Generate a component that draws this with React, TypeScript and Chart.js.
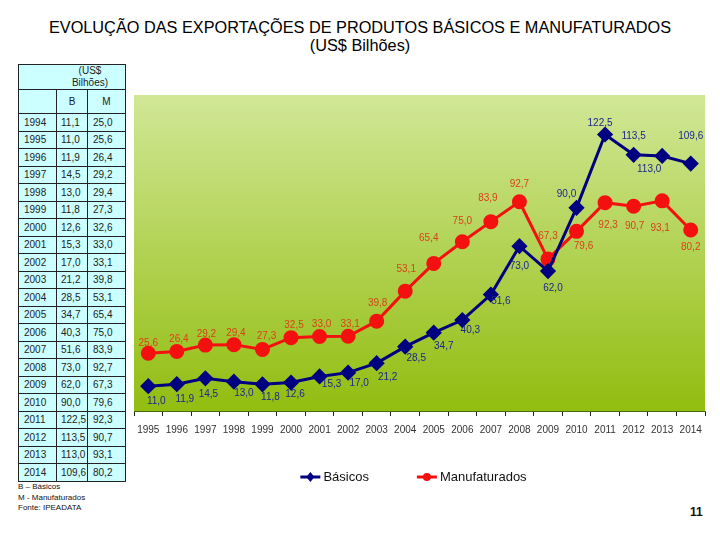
import React, { useEffect, useRef } from "react";
import { Chart, registerables } from "chart.js";
Chart.register(...registerables);

const years = ["1995","1996","1997","1998","1999","2000","2001","2002","2003","2004","2005","2006","2007","2008","2009","2010","2011","2012","2013","2014"];
const basicos = [11.0, 11.9, 14.5, 13.0, 11.8, 12.6, 15.3, 17.0, 21.2, 28.5, 34.7, 40.3, 51.6, 73.0, 62.0, 90.0, 122.5, 113.5, 113.0, 109.6];
const manufaturados = [25.6, 26.4, 29.2, 29.4, 27.3, 32.5, 33.0, 33.1, 39.8, 53.1, 65.4, 75.0, 83.9, 92.7, 67.3, 79.6, 92.3, 90.7, 93.1, 80.2];

const tableYears = ["1994","1995","1996","1997","1998","1999","2000","2001","2002","2003","2004","2005","2006","2007","2008","2009","2010","2011","2012","2013","2014"];
const tableB = [11.1, 11.0, 11.9, 14.5, 13.0, 11.8, 12.6, 15.3, 17.0, 21.2, 28.5, 34.7, 40.3, 51.6, 73.0, 62.0, 90.0, 122.5, 113.5, 113.0, 109.6];
const tableM = [25.0, 25.6, 26.4, 29.2, 29.4, 27.3, 32.6, 33.0, 33.1, 39.8, 53.1, 65.4, 75.0, 83.9, 92.7, 67.3, 79.6, 92.3, 90.7, 93.1, 80.2];

// label placement offsets (px) relative to each point
const basicosLabelDx = [8, 8, 3, 10, 8, 4, 12, 11, 11, 11, 10, 8, 10, 0, 5, -10, -5, 0, -13, 0];
const basicosLabelDy = [15, 15, 16, 12, 13, 12, 8, 11, 14, 12, 14, 10, 7, 20, 17, -14, -11, -19, 13, -27];
const manufLabelDx = [0, 2, 1, 2, 4, 3, 2, 2, 1, 1, -5, 0, -3, 0, 0, 7, 3, 1, -2, 0];
const manufLabelDy = [-10, -12, -11, -11, -13, -12, -12, -12, -18, -22, -25, -20, -23, -18, -23, 15, 23, 20, 27, 17];

const NARROW = '"Liberation Sans Narrow", "Liberation Sans", Arial, sans-serif';
const SANS = '"Liberation Sans", Arial, sans-serif';

const BLUE = "#000080";
const RED = "#f51010";
const BLUE_LABEL = "#1c2790";
const RED_LABEL = "#d8421a";

const fmt = (v: number) => v.toFixed(1).replace(".", ",");

const bgPlugin = {
  id: "bgGradient",
  beforeDraw(chart: any) {
    const { ctx, chartArea: a } = chart;
    if (!a) return;
    const g = ctx.createLinearGradient(0, a.top, 0, a.bottom);
    g.addColorStop(0, "#d1e796");
    g.addColorStop(1, "#92bd10");
    ctx.save();
    ctx.fillStyle = g;
    ctx.fillRect(a.left, a.top, a.right - a.left, a.bottom - a.top);
    ctx.restore();
  },
};

const labelPlugin = {
  id: "pointLabels",
  afterDatasetsDraw(chart: any) {
    const ctx = chart.ctx;
    const offsets = [
      { dx: basicosLabelDx, dy: basicosLabelDy, color: BLUE_LABEL },
      { dx: manufLabelDx, dy: manufLabelDy, color: RED_LABEL },
    ];
    ctx.save();
    ctx.font = `10px ${NARROW}`;
    ctx.textAlign = "center";
    ctx.textBaseline = "middle";
    chart.data.datasets.forEach((ds: any, i: number) => {
      const meta = chart.getDatasetMeta(i);
      const o = offsets[i];
      ctx.fillStyle = o.color;
      meta.data.forEach((el: any, j: number) => {
        ctx.fillText(fmt(ds.data[j]), el.x + o.dx[j], el.y + o.dy[j]);
      });
    });
    ctx.restore();
  },
};

const legendPlugin = {
  id: "customLegend",
  afterDraw(chart: any) {
    const { ctx, chartArea: a } = chart;
    ctx.save();
    ctx.font = `13px ${NARROW}`;
    ctx.textBaseline = "middle";
    const lineW = 20;
    const gap = 48;
    const items = chart.data.datasets.map((ds: any) => ({
      ds,
      w: lineW + 3 + ctx.measureText(ds.label).width,
    }));
    const total = items.reduce((s: number, it: any) => s + it.w, 0) + gap * (items.length - 1);
    let x = (a.left + a.right) / 2 - 6 - total / 2;
    const y = a.bottom + 66;
    items.forEach((it: any) => {
      const ds = it.ds;
      ctx.strokeStyle = ds.borderColor;
      ctx.lineWidth = 3;
      ctx.beginPath();
      ctx.moveTo(x, y);
      ctx.lineTo(x + lineW, y);
      ctx.stroke();
      ctx.fillStyle = ds.borderColor;
      const cx = x + lineW / 2;
      ctx.beginPath();
      if (ds.pointStyle === "rectRot") {
        ctx.moveTo(cx, y - 5);
        ctx.lineTo(cx + 4, y);
        ctx.lineTo(cx, y + 5);
        ctx.lineTo(cx - 4, y);
        ctx.closePath();
      } else {
        ctx.arc(cx, y, 4, 0, Math.PI * 2);
      }
      ctx.fill();
      ctx.fillStyle = "#111";
      ctx.textAlign = "left";
      ctx.fillText(ds.label, x + lineW + 3, y);
      x += it.w + gap;
    });
    ctx.restore();
  },
};

function LineChart() {
  const ref = useRef<HTMLCanvasElement>(null);
  useEffect(() => {
    if (!ref.current) return;
    const chart = new Chart(ref.current, {
      type: "line",
      data: {
        labels: years,
        datasets: [
          {
            label: "Básicos",
            data: basicos,
            borderColor: BLUE,
            backgroundColor: BLUE,
            borderWidth: 3,
            pointStyle: "rectRot",
            pointRadius: 6,
            pointBackgroundColor: BLUE,
            pointBorderColor: BLUE,
            tension: 0,
          },
          {
            label: "Manufaturados",
            data: manufaturados,
            borderColor: RED,
            backgroundColor: RED,
            borderWidth: 3,
            pointStyle: "circle",
            pointRadius: 6,
            pointBackgroundColor: RED,
            pointBorderColor: RED,
            tension: 0,
          },
        ],
      },
      options: {
        animation: false,
        responsive: false,
        maintainAspectRatio: false,
        layout: { padding: { left: 7, right: 15, top: 15, bottom: 56 } },
        plugins: { legend: { display: false }, tooltip: { enabled: false } },
        scales: {
          x: {
            offset: true,
            grid: { display: true, drawOnChartArea: false, drawTicks: true, tickLength: 5, color: "#222", offset: true },
            border: { display: true, color: "#4a6a10", width: 1 },
            ticks: {
              color: "#333",
              font: { family: NARROW, size: 10 },
              maxRotation: 0,
              autoSkip: false,
              padding: 8,
            },
          },
          y: { display: false, min: 0, max: 140 },
        },
      },
      plugins: [bgPlugin, labelPlugin, legendPlugin],
    });
    return () => chart.destroy();
  }, []);
  return <canvas ref={ref} width={595} height={420} style={{ position: "absolute", left: 125, top: 80, width: 595, height: 420 }} />;
}

const cell: React.CSSProperties = {
  border: "1px solid #222",
  padding: "0 0 0 5px",
  textAlign: "left",
  whiteSpace: "nowrap",
  overflow: "hidden",
};

export default function App() {
  return (
    <div style={{ position: "relative", width: 720, height: 540, margin: -8, background: "#fff", fontFamily: SANS, overflow: "hidden" }}>
      <div style={{ position: "absolute", left: 0, top: 18, width: 720, textAlign: "center", fontSize: 16.3, lineHeight: "18px", color: "#000" }}>
        <div>EVOLUÇÃO DAS EXPORTAÇÕES DE PRODUTOS BÁSICOS E MANUFATURADOS</div>
        <div>(US$ Bilhões)</div>
      </div>
      <table
        style={{
          position: "absolute",
          left: 18,
          top: 64,
          width: 107,
          borderCollapse: "collapse",
          tableLayout: "fixed",
          background: "#ccffff",
          fontFamily: SANS,
          fontSize: 10,
          color: "#222",
        }}
      >
        <colgroup>
          <col style={{ width: 38 }} />
          <col style={{ width: 31 }} />
          <col style={{ width: 38 }} />
        </colgroup>
        <tbody>
          <tr style={{ height: 25 }}>
            <td colSpan={3} style={{ ...cell, padding: "0 0 0 36px", textAlign: "center", lineHeight: "12px", whiteSpace: "normal" }}>
              (US$<br />Bilhões)
            </td>
          </tr>
          <tr style={{ height: 24 }}>
            <td style={cell}></td>
            <td style={{ ...cell, textAlign: "center", padding: 0 }}>B</td>
            <td style={{ ...cell, textAlign: "center", padding: 0 }}>M</td>
          </tr>
          {tableYears.map((y, i) => (
            <tr key={y} style={{ height: 17.5 }}>
              <td style={cell}>{y}</td>
              <td style={{ ...cell, padding: "0 0 0 4px" }}>{fmt(tableB[i])}</td>
              <td style={cell}>{fmt(tableM[i])}</td>
            </tr>
          ))}
        </tbody>
      </table>
      <div style={{ position: "absolute", left: 18, top: 482, fontSize: 8, lineHeight: "10.5px", color: "#111" }}>
        <div>B – Básicos</div>
        <div>M - Manufaturados</div>
        <div>Fonte: IPEADATA</div>
      </div>
      <div style={{ position: "absolute", left: 690, top: 505, fontSize: 12, fontWeight: "bold", color: "#111" }}>11</div>
      <LineChart />
    </div>
  );
}
